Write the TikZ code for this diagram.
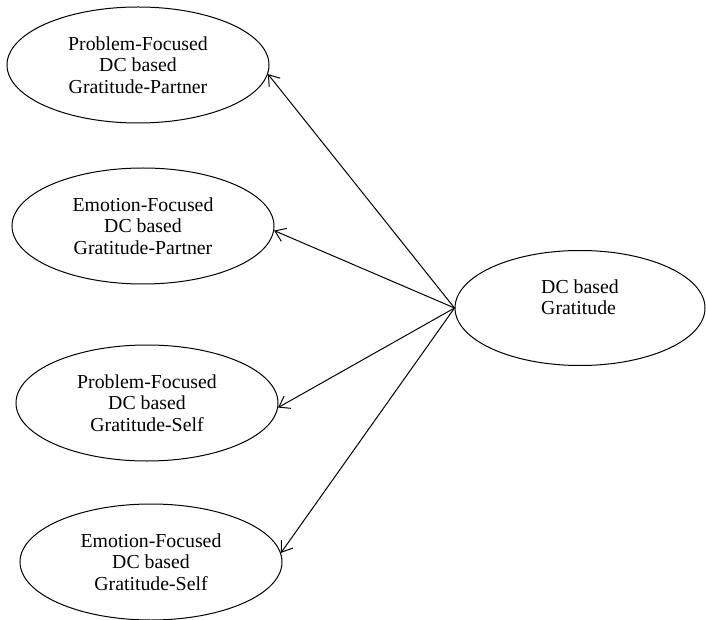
\documentclass[tikz,border=0pt]{standalone}
\usepackage{fontspec}
\setmainfont{Liberation Serif}
\usetikzlibrary{shapes,arrows.meta}

\begin{document}
\begin{tikzpicture}[x=1pt, y=1pt, >={Straight Barb[length=10pt,width=14pt]},
	oval/.style={draw, ellipse, line width=1pt, inner sep=0pt, minimum width=262pt, minimum height=116pt, align=center, font=\fontsize{19.8}{21.3}\selectfont},
	link/.style={->, line width=1pt}]
	\useasboundingbox (0, 0) rectangle (706, 619);

	\node[oval] (pfp) at (138, 554) {Problem-Focused\\DC based\\Gratitude-Partner};
	\node[oval] (efp) at (143, 393) {Emotion-Focused\\DC based\\Gratitude-Partner};
	\node[oval] (pfs) at (147, 216) {Problem-Focused\\DC based\\Gratitude-Self};
	\node[oval] (efs) at (151, 57) {Emotion-Focused\\DC based\\Gratitude-Self};

	\node[oval, minimum width=250pt, minimum height=115pt, align=left] (dcg) at (580, 311) {DC based\\Gratitude\\ };

	\draw[link] (dcg.west) -- (pfp.-4);
	\draw[link] (dcg.west) -- (efp.-2);
	\draw[link] (dcg.west) -- (pfs.-2);
	\draw[link] (dcg.west) -- (efs.4);
\end{tikzpicture}
\end{document}
